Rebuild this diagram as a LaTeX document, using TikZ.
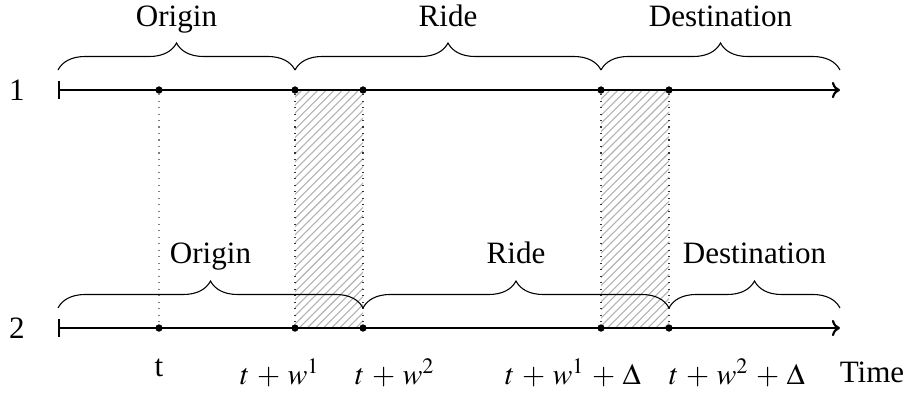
\documentclass[tikz,border=0pt]{standalone}
\usepackage{mathptmx}
\usepackage{fontspec}
\setmainfont{Liberation Serif}
\usetikzlibrary{arrows.meta,decorations.pathreplacing,patterns}
\medmuskip=4.5mu

\begin{document}
\begin{tikzpicture}[
    x=0.37pt, y=-0.37pt,
    axis/.style={thick, {Bar[width=6.5pt]}-{To[length=3pt,width=6pt]}},
    pt/.style={circle, fill, inner sep=0pt, minimum size=2.6pt},
    brc/.style={decorate, decoration={brace, amplitude=10pt}},
    guide/.style={dotted, gray, thin},
    edge/.style={dotted, black!80, thin},
    window/.style={pattern=north east lines, pattern color=gray!60},
    lbl/.style={anchor=base, font=\fontsize{11.5}{14}\selectfont},
    mlbl/.style={anchor=base, font=\fontsize{11}{13}\selectfont}
]
\useasboundingbox (0,0) rectangle (909,392);

% event points on both lines
\foreach \i/\x in {1/159, 2/295, 3/363, 4/601, 5/669} {
    \node[pt] (a\i) at (\x, 90) {};
    \node[pt] (b\i) at (\x, 328) {};
}

% shaded windows
\fill[window] (a2.center) rectangle (b3.center);
\fill[window] (a4.center) rectangle (b5.center);
\draw[guide] (a1) -- (b1);
\foreach \i in {2,3,4,5}
    \draw[edge] (a\i) -- (b\i);

% time lines
\coordinate (s1) at (58, 90);
\coordinate (e1) at (840, 90);
\coordinate (s2) at (58, 328);
\coordinate (e2) at (840, 328);
\draw[axis] (s1) -- (e1);
\draw[axis] (s2) -- (e2);
\foreach \i in {1,...,5} {
    \node[pt] at (a\i) {};
    \node[pt] at (b\i) {};
}
\node[lbl, anchor=center] (n1) at (17, 90) {1};
\node[lbl, anchor=center] (n2) at (17, 328) {2};

% phases, line 1
\foreach \xa/\xb/\txt in {58/295/Origin, 295/601/Ride, 601/840/Destination} {
    \draw[brc] (\xa, 70) -- (\xb, 70);
    \node[lbl] at ({(\xa+\xb)/2}, 26) {\txt};
}

% phases, line 2
\foreach \xa/\xb/\txt in {58/363/Origin, 363/669/Ride, 669/840/Destination} {
    \draw[brc] (\xa, 308) -- (\xb, 308);
    \node[lbl] at ({(\xa+\xb)/2}, 263) {\txt};
}

% time labels
\node[lbl] (tt) at (159, 376) {t};
\node[mlbl] (t1) at (280, 384) {$t + w^1$};
\node[mlbl] (t2) at (395, 384) {$t + w^2$};
\node[mlbl] (t3) at (573, 384) {$t + w^1 + \Delta$};
\node[mlbl] (t4) at (737, 384) {$t + w^2 + \Delta$};
\node[lbl] (tm) at (872, 382) {Time};

\end{tikzpicture}
\end{document}
